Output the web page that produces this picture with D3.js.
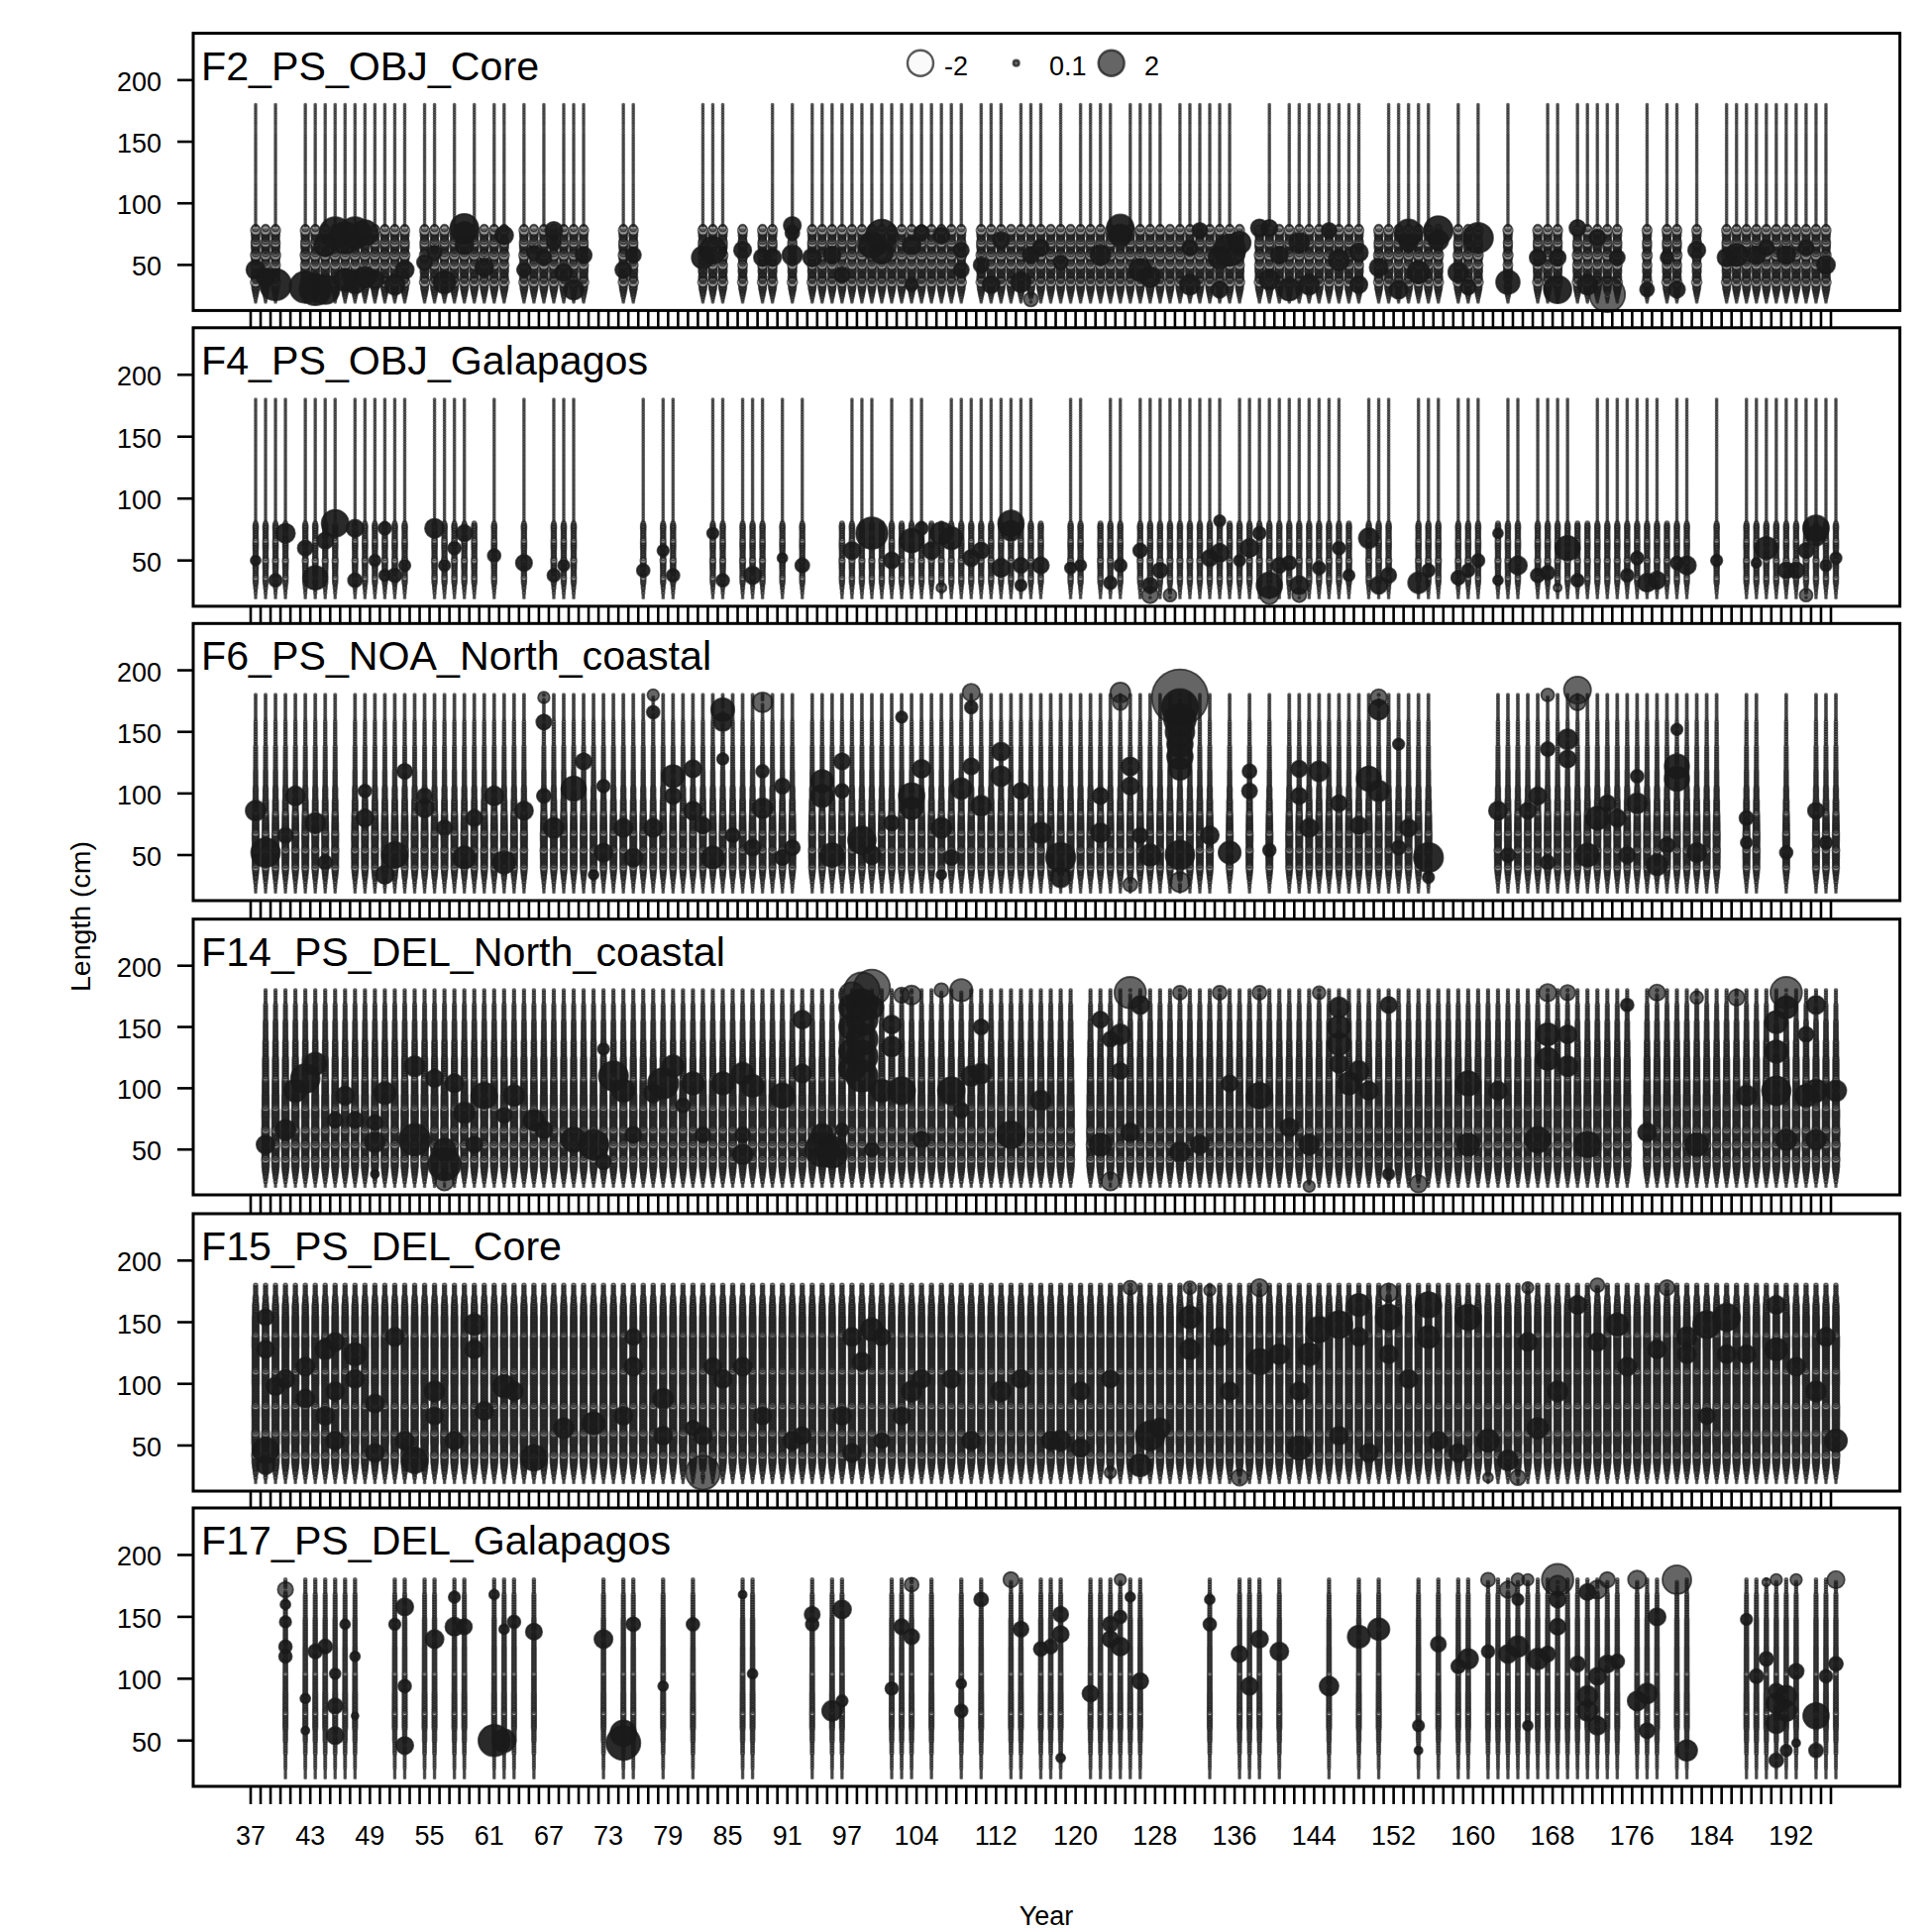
<!DOCTYPE html>
<html><head><meta charset="utf-8">
<script src="https://cdn.jsdelivr.net/npm/d3@7"></script>
<style>html,body{margin:0;background:#fff}text{font-family:"Liberation Sans",Arial,sans-serif;fill:#000}</style>
</head><body><svg id="c" width="1950" height="1950"></svg>
<script>
// Values. Small beads are summarised per panel as a size-by-length profile
// ([from length, residual], negative = open bubble); large bubbles are listed individually as [year, length, residual].
const panelNames=["F2_PS_OBJ_Core","F4_PS_OBJ_Galapagos","F6_PS_NOA_North_coastal","F14_PS_DEL_North_coastal","F15_PS_DEL_Core","F17_PS_DEL_Galapagos"];
const yTicks=[50,100,150,200];
const xLabels=[37,43,49,55,61,67,73,79,85,91,97,104,112,120,128,136,144,152,160,168,176,184,192];
const legendValues=[-2,0.1,2];
const firstLen=20,lastLen=180,lenStep=2,firstYear=37,lastYear=196;

const fullF2=[37,39,42,43,44,45,46,47,48,49,50,51,52,54,55,57,59,61,62,64,66,68,69,70,74,75,82,83,84,89,91,93,94,95,96,97,98,99,100,101,102,103,104,105,106,107,108,110,111,112,114,115,116,118,120,121,122,123,125,126,127,128,130,131,132,133,134,135,139,141,142,143,144,145,146,147,148,151,152,153,154,155,158,160,163,167,168,170,171,172,173,174,177,179,180,182,185,186,187,188,189,190,191,192,193,194,195];
const shortF2=[38,56,58,60,65,67,86,88,113,117,119,124,129,136,138,140,150,156,159,166];
const fullF4=[37,38,39,40,42,43,44,45,47,48,49,50,51,52,55,56,57,58,61,64,67,68,69,76,78,79,83,84,86,87,88,90,92,97,98,99,101,103,104,107,108,109,110,111,112,113,114,115,119,120,123,124,126,127,128,129,130,131,132,133,134,136,137,138,139,140,141,142,143,144,145,146,149,150,151,154,155,156,158,159,160,163,164,166,167,168,169,172,173,174,175,176,177,178,180,181,184,187,188,189,190,191,192,193,194,195,196];
const shortF4=[59,96,100,102,105,106,116,122,135,147,162,170,171,179];
const fullF6=[37,38,39,40,41,42,43,44,45,47,48,49,50,51,52,53,54,55,56,57,58,59,60,61,62,63,64,66,67,68,69,70,71,72,73,74,75,76,77,78,79,80,81,82,83,84,85,86,87,88,89,90,91,93,94,95,96,97,98,99,100,101,102,103,104,105,106,107,108,109,110,111,112,113,114,115,116,117,118,119,120,121,122,123,124,125,126,127,128,129,130,131,132,133,135,137,139,141,142,143,144,145,146,147,148,149,150,151,152,153,154,155,162,163,164,165,166,167,168,169,170,171,172,173,174,175,176,177,178,179,180,181,182,183,184,187,188,191,194,195,196];
const fullF14=[38,39,40,41,42,43,44,45,46,47,48,49,50,51,52,53,54,55,56,57,58,59,60,61,62,63,64,65,66,67,68,69,70,71,72,73,74,75,76,77,78,79,80,81,82,83,84,85,86,87,88,89,90,91,92,93,94,95,96,97,98,99,100,101,102,103,104,105,106,107,108,109,110,111,112,113,114,115,116,117,118,119,121,122,123,124,125,126,127,128,129,130,131,132,133,134,135,136,137,138,139,140,141,142,143,144,145,146,147,148,149,150,151,152,153,154,155,156,157,158,159,160,161,162,163,164,165,166,167,168,169,170,171,172,173,174,175,177,178,179,180,181,182,183,184,185,186,187,188,189,190,191,192,193,194,195,196];
const fullF15=[37,38,39,40,41,42,43,44,45,46,47,48,49,50,51,52,53,54,55,56,57,58,59,60,61,62,63,64,65,66,67,68,69,70,71,72,73,74,75,76,77,78,79,80,81,82,83,84,85,86,87,88,89,90,91,92,93,94,95,96,97,98,99,100,101,102,103,104,105,106,107,108,109,110,111,112,113,114,115,116,117,118,119,120,121,122,123,124,125,126,127,128,129,130,131,132,133,134,135,136,137,138,139,140,141,142,143,144,145,146,147,148,149,150,151,152,153,154,155,156,157,158,159,160,161,162,163,164,165,166,167,168,169,170,171,172,173,174,175,176,177,178,179,180,181,182,183,184,185,186,187,188,189,190,191,192,193,194,195,196];
const fullF17=[40,42,43,44,45,46,47,51,52,54,55,57,58,61,62,63,65,72,74,75,78,81,86,87,93,95,96,101,102,103,105,108,110,113,114,116,117,118,121,122,123,124,125,126,133,136,137,138,140,145,148,150,154,156,158,159,161,162,163,164,165,166,167,168,169,170,171,172,173,174,176,177,178,180,181,187,188,189,190,191,192,194,195,196];

const sizesF2=[[20,.015],[22,.025],[24,.045],[26,.07],[28,.1],[30,.14],[32,.18],[34,.15],[36,-.3],[38,.18],[40,.22],[42,.16],[44,.22],[46,.22],[48,.19],[50,-.26],[52,.16],[54,.19],[56,.22],[58,-.3],[60,.19],[62,.16],[64,.22],[66,.22],[68,-.24],[70,.19],[72,.16],[74,.22],[76,.19],[78,-.28],[80,.15],[82,.014]];
const sizesF4=[[20,.014],[24,.025],[28,.04],[32,.07],[36,-.08],[38,.07],[44,.08],[50,-.1],[52,.07],[60,.08],[66,-.08],[68,.07],[76,.08],[80,.05],[82,.014]];
const sizesF6=[[20,.014],[24,.025],[28,.04],[32,.07],[36,.1],[40,-.14],[42,.13],[48,.14],[54,-.16],[56,.13],[62,.14],[68,-.14],[70,.12],[78,.11],[84,-.1],[86,.09],[96,.07],[106,.05],[120,.04],[140,.03],[160,.02]];
const sizesF14=[[20,.014],[24,.035],[28,.07],[32,.11],[36,.15],[42,-.18],[44,.15],[50,.17],[54,-.2],[56,.16],[62,.17],[66,-.18],[68,.15],[76,.16],[84,-.14],[86,.14],[96,.12],[108,-.1],[110,.1],[125,.08],[140,.06],[155,.04],[170,.025]];
const sizesF15=[[20,.014],[24,.035],[28,.07],[32,.11],[36,.15],[42,-.18],[44,.15],[52,.17],[60,-.18],[62,.15],[74,.16],[82,-.16],[84,.14],[100,.15],[110,-.15],[112,.14],[130,.15],[140,-.13],[142,.13],[155,.11],[165,.08],[172,.045]];
const sizesF17=[[20,.014],[28,.022],[40,.035],[50,.05],[60,.065],[72,-.07],[74,.065],[90,.06],[104,-.06],[106,.055],[125,.05],[150,.04],[170,.028]];

const bigF2=[[37,46,1.05],[38,40,1],[39,34,3],[42,32,3],[43,30,3],[44,29,2.5],[44,65,1.5],[45,75,3],[46,72,3],[47,76,3],[48,75,2],[46,38,1.5],[47,36,1.5],[48,40,1.3],[49,38,1],[51,34,1.2],[52,46,1],[54,52,.7],[55,60,.6],[56,36,1.5],[58,80,2.4],[58,75,1.5],[58,65,1],[60,48,1],[62,74,1],[64,45,.6],[65,60,.6],[66,56,.7],[67,77,.9],[67,67,.6],[68,44,.9],[69,30,1.2],[70,57,.8],[74,46,.8],[75,58,.7],[82,55,1.5],[83,62,2.2],[86,61,.9],[88,56,.9],[89,56,.9],[91,58,1.2],[91,81,.9],[91,75,.6],[93,56,1],[95,58,.9],[96,42,.7],[99,66,2],[100,74,3],[100,60,1.5],[103,34,.5],[103,66,1],[104,76,.7],[106,74,.8],[108,61,.7],[108,45,.7],[110,50,.7],[111,34,.9],[112,69,.8],[114,35,1.2],[115,22,.6],[115,58,.8],[116,64,.8],[118,52,.6],[122,58,1.2],[124,79,2.2],[124,73,1.5],[126,45,1.5],[127,40,1.2],[131,34,1.2],[131,64,.7],[132,77,.7],[134,56,1.5],[134,29,.8],[135,61,3],[136,67,1.5],[138,79,.9],[139,79,.8],[139,37,1.2],[140,58,.9],[141,29,1.5],[142,67,1.2],[143,34,1.2],[145,77,.7],[146,53,1.3],[148,60,1],[148,33,.9],[150,48,1],[152,29,1],[153,76,2.2],[153,67,1],[154,44,1.5],[156,77,2.5],[156,70,1.2],[158,44,1.2],[159,32,.7],[160,72,2.7],[163,36,1.7],[166,56,.8],[168,29,2.3],[168,56,.8],[170,80,.8],[171,34,1.2],[172,72,.8],[173,26,3.8],[174,56,.7],[177,30,.6],[179,56,.5],[180,29,.8],[182,61,.9],[185,56,1],[186,57,1.5],[188,57,1],[189,64,.7],[191,58,1],[193,64,.7],[195,50,1]];
const bigF4=[[37,50,.3],[39,33,.5],[40,71,1.1],[42,60,.7],[43,36,1.7],[44,65,.8],[45,80,2.2],[47,75,.9],[47,34,.6],[49,49,.4],[50,75,.5],[50,38,.4],[51,37,.6],[52,45,.4],[55,75,1.1],[56,45,.4],[57,60,.5],[58,71,.8],[61,53,.5],[64,47,.8],[67,38,.5],[68,45,.4],[76,41,.5],[78,57,.4],[79,38,.5],[83,71,.4],[84,33,.5],[87,38,.9],[90,52,.3],[92,45,.6],[97,57,.9],[99,71,3],[101,49,.8],[103,65,1.7],[104,76,.5],[105,57,.9],[106,71,1.5],[106,28,.3],[107,68,1.5],[109,52,.8],[110,57,.8],[112,44,1],[113,79,2],[113,73,1.2],[114,45,.7],[114,30,.4],[116,46,.8],[119,44,.4],[120,45,.4],[123,32,.5],[124,46,.5],[126,57,.6],[127,22,.8],[127,30,.7],[128,42,.7],[129,22,.5],[133,52,.8],[134,56,1],[134,81,.4],[136,50,.4],[137,60,1],[138,72,.5],[139,30,2],[139,21,1],[140,45,.7],[141,48,.6],[142,30,1],[142,22,.6],[144,44,.5],[146,60,.5],[147,38,.4],[149,68,1.2],[150,30,.9],[151,38,.7],[154,32,1.3],[155,41,.5],[158,36,.6],[159,42,.5],[160,49,.5],[162,72,.3],[162,33,.3],[164,45,1],[166,38,.6],[167,40,.6],[168,27,.2],[169,60,1.8],[170,33,.5],[175,37,.5],[176,52,.5],[177,32,1],[178,33,.9],[180,47,.5],[181,45,1],[184,50,.4],[188,48,.3],[189,60,1.5],[191,41,.8],[192,42,.8],[193,57,.7],[193,22,.5],[194,76,2],[194,70,1.2],[195,45,.4],[196,51,.4]];
const bigF6=[[37,86,1.2],[38,52,2.5],[40,66,.7],[41,97,1.1],[43,75,1.2],[44,44,.6],[48,79,.9],[48,101,.5],[50,34,1],[51,50,2],[52,117,.7],[54,87,1],[54,98,.7],[56,71,.7],[58,47,1.5],[59,79,.8],[61,98,1.1],[62,44,1.5],[64,85,1],[66,157,.7],[66,177,.4],[66,98,.6],[67,71,1.2],[69,103,1.8],[70,125,.8],[71,34,.3],[72,52,1],[72,106,.5],[74,71,1],[75,47,1],[77,165,.5],[77,180,.4],[77,71,1],[79,113,1.5],[79,98,.8],[81,119,.9],[81,85,1],[82,74,.8],[83,47,1.5],[84,168,1.6],[84,157,1],[84,127,.4],[85,66,.6],[87,55,.8],[88,173,1.2],[88,117,.5],[88,87,1.2],[90,106,.7],[90,47,.7],[91,55,.7],[94,109,1.5],[94,98,1.5],[95,50,1.7],[96,125,.8],[96,101,.6],[98,62,2.3],[99,50,1],[101,76,.7],[102,161,.4],[103,98,2],[103,87,1.5],[104,119,1],[106,71,1.2],[106,34,.3],[107,47,.7],[108,103,1.3],[109,122,.8],[109,181,.9],[109,170,.5],[110,90,1.2],[112,133,1],[112,114,1.2],[114,101,.8],[116,68,1.3],[118,47,2.6],[118,31,1.2],[122,98,.8],[122,68,1.1],[124,181,1.2],[124,173,.7],[125,122,1],[125,106,.9],[125,25,.6],[126,66,.7],[127,50,1.4],[130,28,1.2],[130,50,2.5],[130,120,1.5],[130,130,2],[130,140,2],[130,150,2.5],[130,160,3],[130,170,4],[130,178,9.5],[133,66,1],[135,52,1.5],[137,117,.6],[137,101,.7],[139,54,.5],[142,119,.8],[142,98,.8],[143,71,1],[144,117,1.2],[146,92,.8],[148,74,.9],[149,111,1.8],[150,101,1.3],[150,178,.8],[150,168,1.2],[152,55,.6],[152,140,.4],[153,71,.9],[155,47,2.6],[155,31,.4],[162,86,1],[163,50,.6],[165,85,.8],[166,98,.9],[167,180,.5],[167,135,.6],[167,44,.6],[169,143,1.2],[169,127,.9],[170,184,2.2],[170,173,.8],[171,50,1.6],[172,79,1.6],[173,92,.8],[174,79,.9],[175,50,.8],[176,92,1.2],[176,114,.5],[178,42,1.3],[179,57,.7],[180,122,1.8],[180,111,1.8],[180,151,.4],[182,52,1.1],[187,79,.6],[187,60,.4],[191,51,.5],[194,86,.8],[195,60,.5]];
const bigF14=[[38,53,1],[40,66,1.2],[41,98,1.5],[42,107,2.5],[43,120,1.5],[45,74,.7],[46,93,1],[47,74,.8],[49,29,.2],[49,56,1.2],[49,72,.7],[50,96,1.4],[53,117,1.2],[53,58,3],[55,107,.9],[56,23,1],[56,37,3.2],[56,50,1.5],[57,104,1],[58,80,1.3],[59,53,.8],[60,93,2],[62,77,.7],[63,93,1.3],[65,74,1.3],[66,66,.9],[69,58,1.8],[71,53,2.7],[72,39,.7],[72,131,.4],[73,109,2.6],[74,98,1.5],[75,61,.8],[77,96,1],[78,104,2.8],[79,117,1.4],[80,85,.6],[81,104,1.5],[82,61,.7],[84,104,1.5],[86,45,1.2],[86,61,.7],[86,112,1.4],[87,101,1.5],[90,93,1.8],[92,156,1],[92,112,1],[94,50,3.5],[94,61,1.4],[95,48,3],[96,66,.5],[97,115,2],[97,130,2],[97,150,2],[97,165,2],[97,176,2],[98,110,3],[98,125,3],[98,140,3],[98,155,3],[98,168,3],[98,179,3.8],[99,50,.6],[99,165,1.6],[99,181,4],[100,98,1.5],[101,133,1.2],[101,152,1],[102,98,2.2],[102,176,.7],[103,176,1.1],[104,58,.8],[106,179,.6],[107,98,2.2],[108,82,.7],[108,179,1.5],[109,109,1.2],[110,112,1.2],[110,149,.7],[113,61,2.2],[116,90,1.2],[122,53,1.5],[122,155,.8],[123,23,1],[123,140,.7],[124,143,1.2],[124,113,.8],[125,178,3],[125,63,1],[126,168,1],[130,178,.6],[130,48,1.2],[132,53,1],[134,178,.6],[135,103,.8],[138,178,.6],[138,93,2],[141,68,1],[143,20,.4],[143,53,1.2],[144,178,.5],[146,165,1.2],[146,150,1.5],[146,135,1.5],[146,120,1],[147,103,1.5],[148,113,1.2],[149,98,1],[151,168,.8],[151,30,.4],[154,21,.9],[159,103,1.8],[159,53,1.5],[162,98,1],[166,58,2],[167,178,.9],[167,143,1.5],[167,123,1.5],[169,178,.7],[169,143,1],[169,118,1.2],[171,53,2],[175,168,.5],[177,63,1],[178,178,.8],[182,53,1.6],[182,173,.5],[186,173,.8],[187,93,1.2],[190,153,1.5],[190,130,1.5],[190,98,2.5],[191,178,3],[191,165,1.5],[191,58,1.3],[193,93,1.5],[193,143,.7],[194,98,1.5],[194,168,1],[194,58,1.2],[196,98,1.3]];
const bigF15=[[38,46,2],[38,33,1],[38,153,.8],[38,128,.9],[39,97,1],[40,103,1],[42,88,1],[42,113,1],[44,128,1.2],[44,73,1],[45,133,1],[45,93,1],[45,53,1],[47,123,1.5],[47,103,1],[49,43,1],[49,83,1],[51,138,1],[52,53,1],[53,38,2],[55,93,1.2],[55,73,.9],[57,53,1],[59,148,1.3],[59,128,1],[60,78,1],[62,98,1.5],[63,93,1],[65,40,2],[68,63,1.2],[71,68,1.5],[74,73,1],[75,113,1],[75,138,.8],[78,88,1.2],[78,58,1],[81,63,.7],[82,28,3.5],[82,58,1],[83,113,.9],[84,103,1],[86,113,1],[88,73,.9],[91,53,1],[92,58,.9],[96,73,1],[97,138,1],[97,43,1],[98,118,1],[99,143,1.5],[100,53,.7],[100,138,.9],[102,73,.9],[103,93,1.2],[104,103,1],[107,103,1],[109,53,1],[112,93,1.2],[114,103,1],[117,53,1],[118,53,1.2],[120,93,1],[120,48,1],[123,103,.9],[123,28,.4],[125,178,.6],[126,33,1.5],[127,58,2.5],[128,63,1.2],[131,153,1.5],[131,128,1.2],[131,178,.5],[133,175,.4],[134,138,1],[135,93,1],[136,23,.8],[138,178,.9],[138,118,2],[140,123,1.2],[142,48,1.7],[142,93,1],[143,123,1.5],[144,143,2],[146,148,2.2],[146,58,1],[148,163,1.5],[148,138,1],[149,43,1],[151,153,2],[151,173,1],[151,123,1],[153,103,1],[155,163,2],[155,138,1.5],[156,53,1],[158,43,1],[159,153,2],[161,53,1.5],[161,23,.3],[163,38,1.2],[164,23,.7],[165,178,.4],[165,133,1],[166,63,1.3],[168,93,1.2],[170,163,1],[172,180,.6],[172,133,1],[174,148,1.5],[175,113,1],[178,128,1],[179,178,.7],[181,138,1.2],[181,123,1],[183,148,2.2],[183,73,.8],[185,153,2.2],[185,123,1],[187,123,1],[190,128,1.5],[190,163,1],[192,113,1],[194,93,1.2],[195,138,1],[196,53,1.5]];
const bigF17=[[40,172,.7],[40,160,.3],[40,145,.4],[40,125,.5],[40,118,.5],[42,84,.3],[42,58,.2],[43,121,.6],[44,125,.6],[45,104,.35],[45,77,.7],[45,54,.9],[46,144,.3],[47,117,.3],[47,70,.15],[51,144,.4],[52,157,.9],[52,93,.5],[52,45,.9],[55,131,1],[57,141,1],[57,166,.4],[58,141,.7],[61,49,3],[61,167,.3],[62,50,1.6],[62,139,.3],[63,145,.5],[65,137,.8],[72,132,1],[74,48,3.5],[74,56,2],[75,143,.6],[78,93,.3],[81,144,.5],[86,167,.2],[87,104,.3],[93,152,.7],[93,144,.5],[95,74,1.2],[96,155,1],[96,81,.4],[101,92,.5],[102,141,.7],[103,176,.6],[103,133,.7],[108,74,.5],[108,96,.3],[110,164,.6],[113,180,.7],[114,139,.7],[116,123,.6],[117,125,.6],[118,152,.7],[118,136,.8],[118,36,.25],[121,88,.8],[123,144,.7],[123,132,.8],[124,179,.4],[124,149,.5],[124,125,1],[125,166,.3],[126,97,.8],[133,163,.3],[133,144,.5],[136,120,.8],[137,93,.9],[138,131,.9],[140,121,1],[145,93,1.1],[148,133,1.5],[150,139,1.4],[154,61,.4],[154,42,.2],[156,128,.7],[158,109,.6],[159,115,1.2],[161,179,.6],[161,121,.5],[163,171,.8],[163,120,1],[164,179,.5],[164,163,.4],[164,125,1.3],[165,179,.4],[165,61,.3],[166,115,1.3],[167,120,.7],[168,141,.8],[168,163,.8],[168,175,1],[168,179,3],[170,112,.7],[171,169,.8],[171,85,1.2],[171,74,1.2],[172,171,1],[172,101,.9],[172,61,1],[173,179,.7],[173,112,.9],[174,113,.6],[176,179,1],[176,82,1.1],[177,88,1.2],[177,58,.7],[178,149,.9],[180,179,2.5],[181,42,1.3],[187,147,.4],[188,101,.6],[189,116,.6],[189,178,.2],[190,179,.4],[190,90,.7],[190,80,1.2],[190,64,1.2],[190,34,.6],[191,85,1.3],[191,74,1.3],[191,42,.4],[192,179,.4],[192,106,.8],[193,106,.7],[193,48,.2],[194,69,2],[194,42,.6],[195,102,.5],[196,179,.9],[196,112,.6]];

const fullYears=[fullF2,fullF4,fullF6,fullF14,fullF15,fullF17];
const shortYears=[shortF2,shortF4,[],[],[],[]];
const sizeProfiles=[sizesF2,sizesF4,sizesF6,sizesF14,sizesF15,sizesF17];
const bigBubbles=[bigF2,bigF4,bigF6,bigF14,bigF15,bigF17];

const frameTops=[33.6,330.8,629.3,927.7,1225,1522];
const frameBottoms=[313.4,611.9,909,1206,1505,1803];
const L=195,R=1917.6,shortTop=80;
const svg=d3.select("#c");
const x=d3.scaleLinear().domain([37,196]).range([253,1848]);
const rad=d3.scaleSqrt().domain([0,2]).range([0,13]);
const beadFill=v=>v<0?"rgba(255,255,255,0.4)":"rgba(26,26,26,0.45)";
const beadStroke="rgba(26,26,26,0.62)";
// isolated bubbles at the edge of a column stay mid grey; those over the beads read almost solid
const bigFill=d=>(d.l>=172||d.l<=28)?"rgba(26,26,26,0.67)":"rgba(26,26,26,0.93)";
const lens=d3.range(firstLen,lastLen+1,lenStep);
const years=d3.range(firstYear,lastYear+1);

panelNames.forEach((name,i)=>{
  const y=d3.scaleLinear().domain([13,238]).range([frameBottoms[i],frameTops[i]]);
  const g=svg.append("g");
  const profile=sizeProfiles[i];
  const at=d3.bisector(d=>d[0]).right;
  const sizeAt=l=>profile[Math.max(0,at(profile,l)-1)][1];
  const cols=[...fullYears[i],...shortYears[i]].sort((a,b)=>a-b);
  const shortSet=new Set(shortYears[i]);
  const big=new Map();
  bigBubbles[i].forEach(([t,l,v])=>{
    const col=cols.reduce((p,c)=>Math.abs(c-t)<Math.abs(p-t)?c:p,cols[0]);
    const bin=Math.round(l/lenStep)*lenStep;
    big.set(col+"_"+bin,{t:col,l:bin,v});
  });
  const cells=[];
  cols.forEach(t=>lens.forEach(l=>{
    const isShort=shortSet.has(t)&&l>shortTop;
    if(isShort||big.has(t+"_"+l))return;
    cells.push({t,l,v:sizeAt(l)});
  }));
  const bigCells=[...big.values()].sort((a,b)=>a.t-b.t||a.l-b.l);
  g.append("g").selectAll("line").data(years).join("line")
    .attr("x1",d=>x(d)).attr("x2",d=>x(d)).attr("y1",frameBottoms[i]).attr("y2",frameBottoms[i]+18)
    .attr("stroke","#000").attr("stroke-width",2.6);
  g.append("g").selectAll("circle").data(cells).join("circle")
    .attr("cx",d=>x(d.t+0.5)).attr("cy",d=>y(d.l)).attr("r",d=>rad(Math.abs(d.v)))
    .attr("fill",d=>beadFill(d.v)).attr("stroke",beadStroke).attr("stroke-width",1.7);
  g.append("g").selectAll("circle").data(bigCells).join("circle")
    .attr("cx",d=>x(d.t+0.5)).attr("cy",d=>y(d.l)).attr("r",d=>rad(Math.abs(d.v)))
    .attr("fill",bigFill).attr("stroke","rgba(26,26,26,0.72)").attr("stroke-width",1.8);
  g.append("rect").attr("x",L).attr("y",frameTops[i]).attr("width",R-L).attr("height",frameBottoms[i]-frameTops[i])
    .attr("fill","none").attr("stroke","#000").attr("stroke-width",3);
  const yt=g.append("g");
  yt.selectAll("line").data(yTicks).join("line")
    .attr("x1",L-16).attr("x2",L).attr("y1",d=>y(d)).attr("y2",d=>y(d))
    .attr("stroke","#000").attr("stroke-width",2.6);
  yt.selectAll("text").data(yTicks).join("text")
    .attr("x",163).attr("y",d=>y(d)+11).attr("text-anchor","end").attr("font-size",27).text(d=>d);
  g.append("text").attr("x",203).attr("y",frameTops[i]+47).attr("font-size",41.2).text(name);
});

svg.append("g").selectAll("text").data(xLabels).join("text")
  .attr("x",d=>x(d)).attr("y",1862).attr("text-anchor","middle").attr("font-size",27).text(d=>d);
svg.append("text").attr("x",1056).attr("y",1943).attr("text-anchor","middle").attr("font-size",27).text("Year");
svg.append("text").attr("transform","translate(91,925) rotate(-90)").attr("text-anchor","middle").attr("font-size",28.5).text("Length (cm)");

const legX=[929,1025.7,1121.7],legT=[953,1059,1155];
const leg=svg.append("g");
leg.selectAll("circle").data(legendValues).join("circle")
  .attr("cx",(d,j)=>legX[j]).attr("cy",63.7).attr("r",d=>rad(Math.abs(d)))
  .attr("fill",d=>d<0?"#fafafa":"rgba(26,26,26,0.67)").attr("stroke","rgba(26,26,26,0.72)").attr("stroke-width",2.4);
leg.selectAll("text").data(legendValues).join("text")
  .attr("x",(d,j)=>legT[j]).attr("y",76).attr("font-size",27).text(d=>d);
</script></body></html>
